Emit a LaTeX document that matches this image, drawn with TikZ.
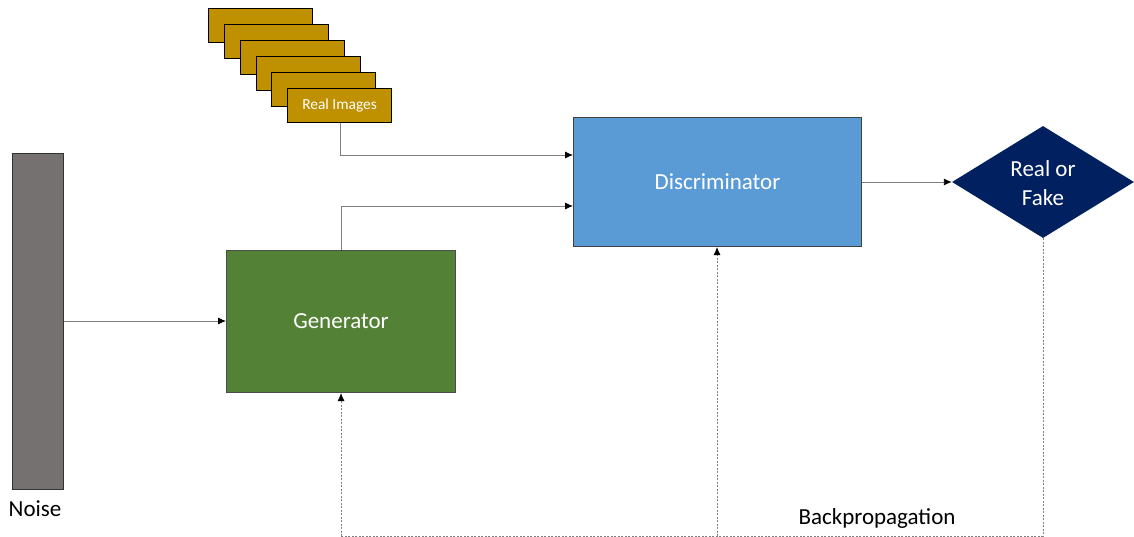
\documentclass[tikz,border=0pt]{standalone}
\usepackage{fontspec}
\setmainfont{Carlito}
\usetikzlibrary{shapes.geometric,arrows.meta}
\definecolor{discblue}{HTML}{5B9BD5}
\definecolor{gengreen}{HTML}{538135}
\definecolor{noisegray}{HTML}{767171}
\definecolor{navy}{HTML}{002060}
\definecolor{gold}{HTML}{BF9000}
\definecolor{linegray}{HTML}{7F7F7F}
\begin{document}
\begin{tikzpicture}[x=1pt,y=-1pt,
  imgbox/.style={draw=black,line width=1.2pt,fill=gold,minimum width=104pt,minimum height=34pt,inner sep=0pt,anchor=north west,text=white,font=\fontsize{15.4}{17}\selectfont},
  flow/.style={draw=linegray,line width=0.9pt,-{Latex[length=8pt,width=7pt,black]}},
  back/.style={draw=linegray,line width=0.9pt,dash pattern=on 2pt off 1.5pt,-{Latex[length=8pt,width=7pt,black]}},
  backline/.style={draw=linegray,line width=0.9pt,dash pattern=on 2pt off 1.5pt},
  bigtext/.style={font=\fontsize{23}{27}\selectfont}
]
\useasboundingbox (0,0) rectangle (1134,537);
% stacked real images
\node[imgbox] (i1) at (208,8) {};
\node[imgbox] (i2) at (224,24) {};
\node[imgbox] (i3) at (240,40) {};
\node[imgbox] (i4) at (256,56) {};
\node[imgbox] (i5) at (271,72) {};
\node[imgbox] (real) at (287,88) {Real Images};
% noise
\node[draw=black!80,line width=1pt,fill=noisegray,minimum width=51pt,minimum height=336pt,inner sep=0pt,anchor=north west] (noise) at (12,153) {};
\node[bigtext,anchor=center] (noiselbl) at (35,509) {Noise};
% generator
\node[draw=black!70,line width=1pt,fill=gengreen,minimum width=229pt,minimum height=142pt,inner sep=0pt,anchor=north west,text=white,bigtext] (gen) at (226,250) {Generator};
% discriminator
\node[draw=black!75,line width=1pt,fill=discblue,minimum width=288pt,minimum height=129pt,inner sep=0pt,anchor=north west,text=white,bigtext] (disc) at (573,117) {Discriminator};
% diamond
\node[diamond,fill=navy,minimum width=182pt,minimum height=112pt,inner sep=0pt,aspect=1.625] (rf) at (1043,182) {};
\node[text=white,bigtext,align=center] (rftext) at (1043,183) {Real or\\[2pt]Fake};
% backprop label
\node[font=\fontsize{23}{27}\selectfont] (bp) at (877,518) {Backpropagation};
% connectors
\draw[flow] (noise.east |- 0,321) -- (gen.west |- 0,321);
\draw[flow] (real.south -| 340,0) |- (disc.west |- 0,155);
\draw[flow] (gen.north -| 341,0) |- (disc.west |- 0,206);
\draw[flow] (disc.east) -- (rf.west);
\coordinate (c1) at (1043,536);
\coordinate (c2) at (341,536);
\coordinate (c3) at (717,536);
\draw[backline] (rf.south) -- (c1) -- (c2);
\draw[back] (c2) -- (gen.south -| 341,0);
\draw[back] (c3) -- (disc.south -| 717,0);
\end{tikzpicture}
\end{document}
